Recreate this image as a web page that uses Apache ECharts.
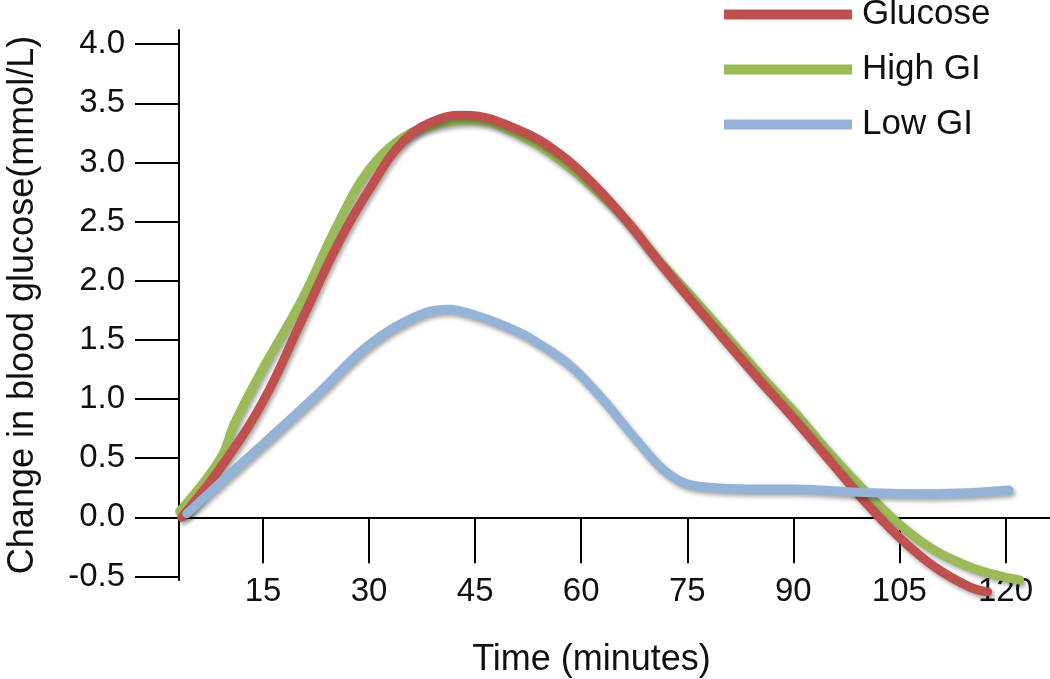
<!DOCTYPE html>
<html>
<head>
<meta charset="utf-8">
<script src="https://cdn.jsdelivr.net/npm/echarts@6/dist/echarts.min.js"></script>
<style>
  html, body { margin: 0; padding: 0; background: #fff; }
  #chart { width: 1050px; height: 679px; }
</style>
</head>
<body>
<div id="chart"></div>
<script>
// ---- Data (minutes, change in blood glucose mmol/L) ----
const seriesNames = ['Glucose', 'High GI', 'Low GI'];

const glucoseData = [
  [3.5, 0], [9, 0.42], [15, 0.98], [20.5, 1.67], [25.5, 2.3], [30, 2.77],
  [35, 3.19], [40, 3.37], [43.5, 3.4], [51, 3.28], [57, 3.07], [62, 2.8],
  [66.5, 2.5], [71, 2.16], [76, 1.8], [81, 1.45], [85.5, 1.14], [90, 0.84],
  [95, 0.49], [100, 0.14], [105, -0.17], [110, -0.42], [115, -0.59], [117.5, -0.63]
];

const highGIData = [
  [3.2, 0.05], [9, 0.5], [11, 0.8], [15, 1.26], [20.5, 1.84], [25.5, 2.47],
  [30, 2.94], [35, 3.22], [40, 3.33], [44.5, 3.36], [51, 3.24], [57, 3.02],
  [62, 2.77], [66.5, 2.5], [71, 2.17], [76, 1.84], [81, 1.5], [85.5, 1.19],
  [90, 0.9], [95, 0.55], [100, 0.23], [105, -0.06], [110, -0.28],
  [115, -0.42], [119.5, -0.5], [122, -0.53]
];

const lowGIData = [
  [4.2, 0.03], [10, 0.35], [15, 0.62], [23, 1.06], [30, 1.46], [37, 1.71],
  [41, 1.76], [45.5, 1.7], [51, 1.57], [54.5, 1.45], [58.5, 1.28], [63, 1.0],
  [68, 0.64], [72.5, 0.36], [77, 0.26], [84, 0.24], [90, 0.24], [100, 0.21],
  [110, 0.2], [120.5, 0.23]
];

const xTicks = [15, 30, 45, 60, 75, 90, 105, 120];
const yTicks = [-0.5, 0, 0.5, 1.0, 1.5, 2.0, 2.5, 3.0, 3.5, 4.0];

const colors = ['#c0504d', '#9bbb59', '#95b3d7'];
const FONT = "'Liberation Sans', Arial, sans-serif";

const chart = echarts.init(document.getElementById('chart'));

function lineSeries(name, data, color, z) {
  return {
    name: name,
    type: 'line',
    data: data,
    smooth: 0.4,
    showSymbol: false,
    symbol: 'none',
    clip: false,
    z: z,
    lineStyle: {
      color: color,
      width: 9,
      cap: 'round',
      shadowColor: 'rgba(0,0,0,0.35)',
      shadowBlur: 4,
      shadowOffsetX: 2,
      shadowOffsetY: 3
    },
    itemStyle: { color: color },
    emphasis: { disabled: true }
  };
}

chart.setOption({
  animation: false,
  backgroundColor: '#fff',
  textStyle: { fontFamily: FONT },
  grid: { left: 163, right: 0, top: 30, bottom: 99, containLabel: false, outerBoundsMode: 'none' },
  legend: {
    data: seriesNames,
    orient: 'vertical',
    left: 724,
    top: -3,
    padding: 0,
    itemGap: 20,
    itemWidth: 128,
    itemHeight: 10,
    icon: 'rect',
    textStyle: { fontSize: 35, color: '#111', fontFamily: FONT, lineHeight: 35, padding: [0, 0, 0, 5] }
  },
  xAxis: {
    type: 'value',
    min: 0.85,
    max: 126.3,
    name: 'Time (minutes)',
    nameLocation: 'middle',
    nameGap: 62,
    nameTextStyle: { fontSize: 36, color: '#111', fontFamily: FONT, padding: [0, 30, 0, 0] },
    axisLine: { onZero: true, lineStyle: { color: '#000', width: 2 } },
    axisTick: { show: true, inside: false, length: 46, lineStyle: { color: '#000', width: 2 }, customValues: xTicks },
    axisLabel: { fontSize: 33, color: '#111', margin: -5, fontFamily: FONT, customValues: xTicks },
    splitLine: { show: false }
  },
  yAxis: {
    type: 'value',
    min: -0.53,
    max: 4.12,
    offset: -16,
    name: 'Change in blood glucose(mmol/L)',
    nameLocation: 'middle',
    nameGap: 138,
    nameTextStyle: { fontSize: 36, color: '#111', fontFamily: FONT },
    axisLine: { show: true, onZero: false, lineStyle: { color: '#000', width: 2 } },
    axisTick: { show: true, inside: false, length: 44, lineStyle: { color: '#000', width: 2 }, customValues: yTicks },
    axisLabel: {
      fontSize: 33, color: '#111', margin: 54, fontFamily: FONT, customValues: yTicks,
      formatter: function (v) { return Number(v).toFixed(1); }
    },
    splitLine: { show: false }
  },
  series: [
    lineSeries('Glucose', glucoseData, colors[0], 3),
    lineSeries('High GI', highGIData, colors[1], 2),
    lineSeries('Low GI', lowGIData, colors[2], 4)
  ]
});
</script>
</body>
</html>
